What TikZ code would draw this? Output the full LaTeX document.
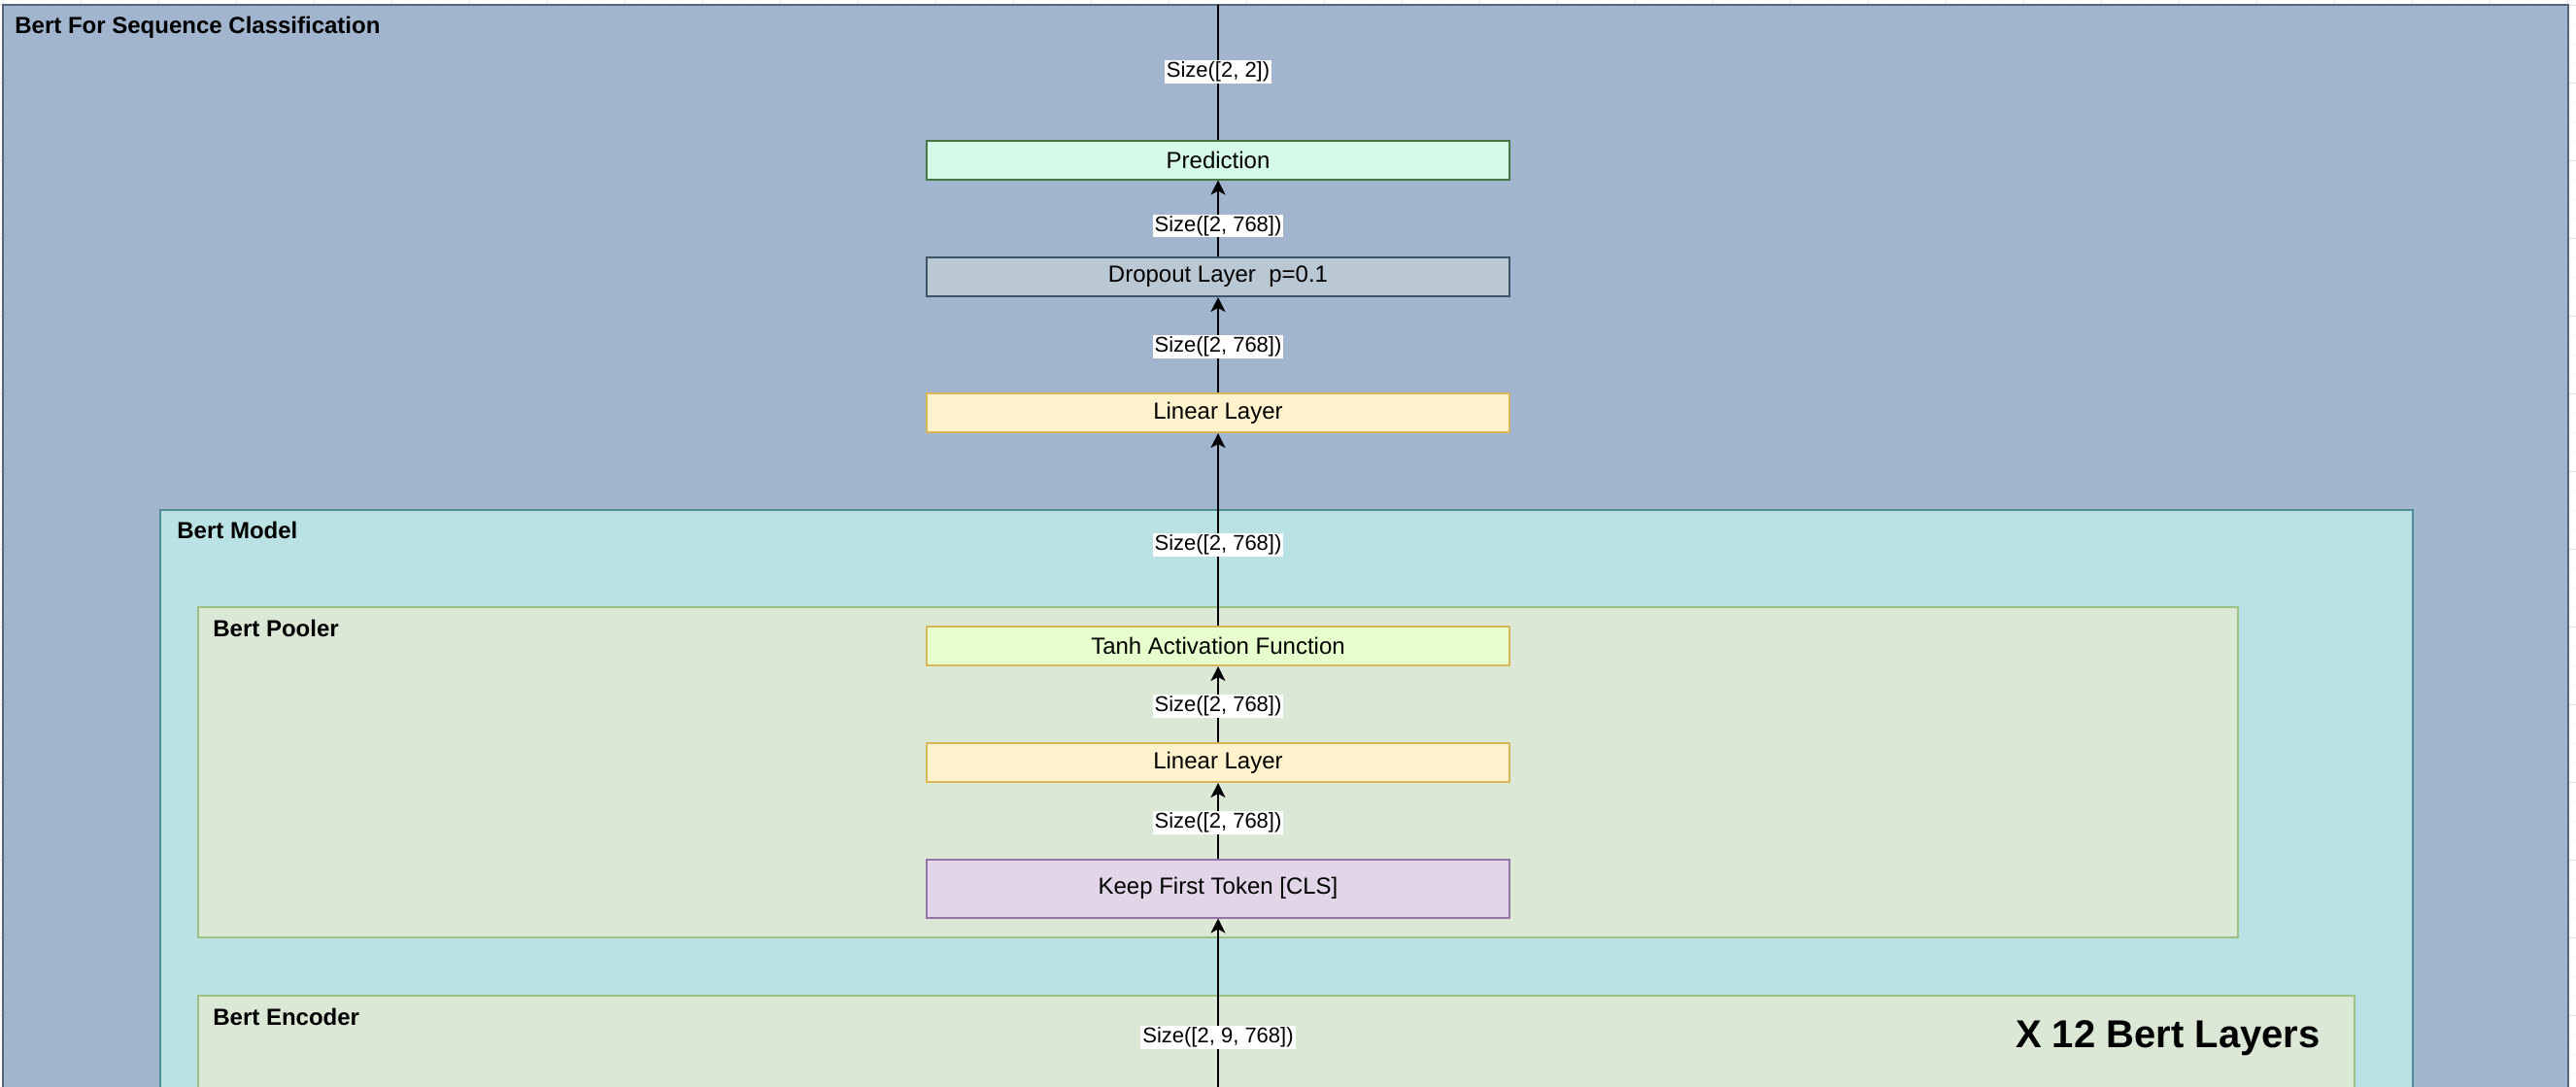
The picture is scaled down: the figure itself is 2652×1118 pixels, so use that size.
\documentclass[tikz,border=0pt]{standalone}
\usepackage{fontspec}
\setmainfont{Liberation Sans}
\usetikzlibrary{positioning, arrows.meta}
\definecolor{outerfill}{HTML}{A1B5CE}
\definecolor{outerline}{HTML}{56657A}
\definecolor{modelfill}{HTML}{BAE2E4}
\definecolor{modelline}{HTML}{4E8C98}
\definecolor{poolfill}{HTML}{DAE8D5}
\definecolor{poolline}{HTML}{9DC183}
\definecolor{predfill}{HTML}{D6FAE8}
\definecolor{predline}{HTML}{447744}
\definecolor{dropfill}{HTML}{BAC8D3}
\definecolor{dropline}{HTML}{3C5468}
\definecolor{linfill}{HTML}{FFF2CC}
\definecolor{linline}{HTML}{D6B656}
\definecolor{tanhfill}{HTML}{E6FFCC}
\definecolor{keepfill}{HTML}{E1D5E7}
\definecolor{keepline}{HTML}{9673A6}

\begin{document}
\begin{tikzpicture}[x=0.5bp, y=0.5bp,
font=\fontsize{12bp}{14bp}\selectfont,
layer/.style 2 args={rectangle, draw=#2, fill=#1, line width=1bp,
minimum width=300bp, minimum height=20bp, inner sep=0pt, align=center},
container/.style 2 args={draw=#2, fill=#1, line width=1bp},
grouptitle/.style={anchor=base west, inner sep=0pt,
font=\fontsize{12bp}{14bp}\selectfont\bfseries},
dimlabel/.style={fill=white, inner xsep=1bp, inner ysep=0.75bp,
font=\fontsize{11bp}{13bp}\selectfont},
arrow/.style={-{Stealth[length=7.5bp, width=7.5bp, inset=2bp]}, line width=1.1bp}
]
\useasboundingbox (0,0) rectangle (2652,-1118);
\clip (0,0) rectangle (2652,-1118);

% Canvas grid
\begin{scope}[shift={(3,-5)}]
\draw[black!4, line width=0.5bp, step=20] (-20,-1140) grid (2660,20);
\draw[black!11, line width=0.5bp, step=80] (-80,-1200) grid (2720,80);
\end{scope}

% Containers
\draw[container={outerfill}{outerline}] (3,-4.6) rectangle (2644,-1160);
\draw[container={modelfill}{modelline}] (164.6,-525) rectangle (2484,-1160);
\draw[container={poolfill}{poolline}] (204,-625) rectangle (2304,-965);
\draw[container={poolfill}{poolline}] (204,-1025) rectangle (2424,-1160);

% Titles
\node[grouptitle] (clsTitle) at (15,-34) {Bert For Sequence Classification};
\node[grouptitle] (modelTitle) at (182,-554) {Bert Model};
\node[grouptitle] (poolerTitle) at (219,-655) {Bert Pooler};
\node[grouptitle] (encoderTitle) at (219,-1055) {Bert Encoder};
\node[grouptitle, anchor=base east, font=\fontsize{20bp}{24bp}\selectfont\bfseries]
(repeatNote) at (2389,-1078) {X 12 Bert Layers};

% Classifier head
\node[layer={predfill}{predline}] (predict) at (1254,-164.5) {Prediction};
\node[layer={dropfill}{dropline}] (dropout) at (1254,-285) {Dropout Layer\ \ p=0.1};
\node[layer={linfill}{linline}] (linear) at (1254,-425) {Linear Layer};

% Pooler
\node[layer={tanhfill}{linline}] (tanh) at (1254,-665) {Tanh Activation Function};
\node[layer={linfill}{linline}] (poolLinear) at (1254,-785) {Linear Layer};
\node[layer={keepfill}{keepline}, minimum height=30bp] (keepCls) at (1254,-914.5)
{Keep First Token [CLS]};

% Free ends
\coordinate (outTop) at (1254,-4.6);
\coordinate (encOut) at (1254,-1160);

% Arrows
\draw[line width=1.1bp] (predict) -- (outTop) node[dimlabel, pos=0.5] {Size([2, 2])};
\draw[arrow] (dropout) -- (predict) node[dimlabel, pos=0.4] {Size([2, 768])};
\draw[arrow] (linear) -- (dropout) node[dimlabel, pos=0.48] {Size([2, 768])};
\draw[arrow] (tanh) -- (linear) node[dimlabel, pos=0.42] {Size([2, 768])};
\draw[arrow] (poolLinear) -- (tanh) node[dimlabel, pos=0.475] {Size([2, 768])};
\draw[arrow] (keepCls) -- (poolLinear) node[dimlabel, pos=0.47] {Size([2, 768])};
\draw[arrow] (encOut) -- (keepCls) node[dimlabel, pos=0.43] {Size([2, 9, 768])};

\end{tikzpicture}
\end{document}
